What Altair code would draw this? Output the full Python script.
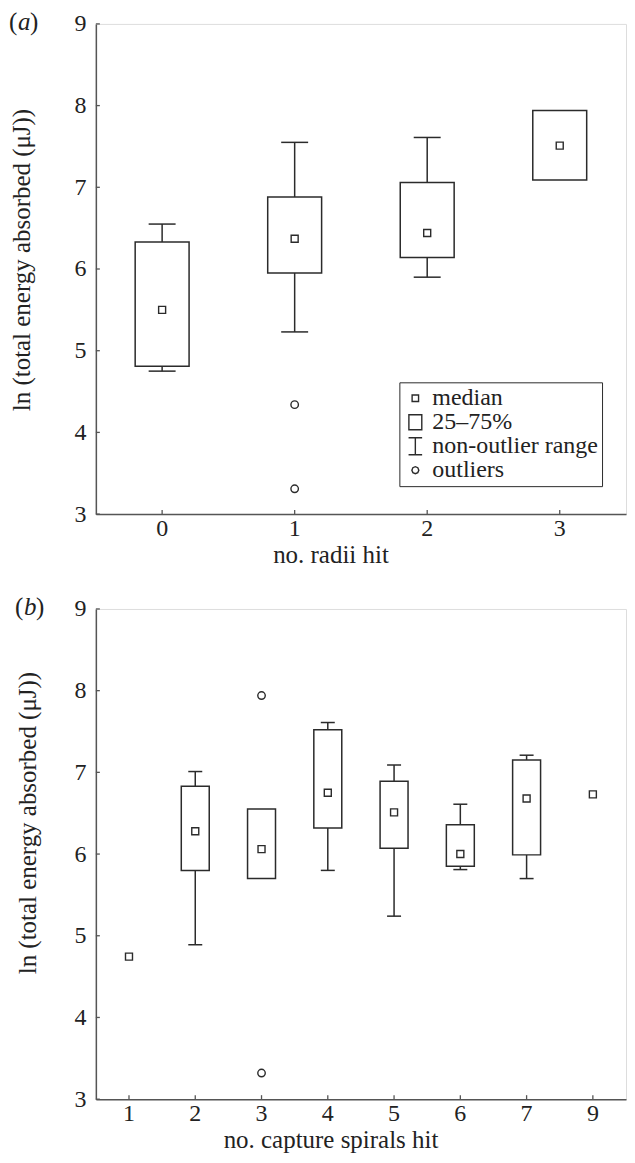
import altair as alt
import pandas as pd

FONT = "Liberation Serif"
INK = "#2b2b2b"
AX = "#555555"
TXT = "#222222"

# ---- panel (a): no. radii hit ----
radii_cats = ["0", "1", "2", "3"]
a_med = [5.50, 6.37, 6.44, 7.51]
a_q1 = [4.81, 5.95, 6.14, 7.09]
a_q3 = [6.33, 6.88, 7.06, 7.94]
a_lo = [4.75, 5.23, 5.90, None]
a_hi = [6.55, 7.55, 7.61, None]
a_out_cat = ["1", "1"]
a_out_val = [4.34, 3.31]

# ---- panel (b): no. capture spirals hit ----
spiral_cats = ["1", "2", "3", "4", "5", "6", "7", "9"]
b_med = [4.745, 6.28, 6.06, 6.75, 6.51, 6.00, 6.68, 6.73]
b_q1 = [None, 5.80, 5.70, 6.32, 6.07, 5.85, 5.99, None]
b_q3 = [None, 6.83, 6.55, 7.52, 6.89, 6.36, 7.15, None]
b_lo = [None, 4.89, None, 5.80, 5.24, 5.81, 5.70, None]
b_hi = [None, 7.01, None, 7.61, 7.09, 6.61, 7.21, None]
b_out_cat = ["3", "3"]
b_out_val = [7.94, 3.32]

y_ticks = [3, 4, 5, 6, 7, 8, 9]
y_title = "ln (total energy absorbed (μJ))"
legend_items = ["median", "25–75%", "non-outlier range", "outliers"]
legend_paths = [
    "M-0.38,-0.38H0.38V0.38H-0.38Z",
    "M-0.76,-0.88H0.76V0.88H-0.76Z",
    "M-0.8,-1H0.8M0,-1V1M-0.8,1H0.8",
    "M-0.41,0L-0.29,-0.29L0,-0.41L0.29,-0.29L0.41,0L0.29,0.29L0,0.41L-0.29,0.29Z",
]

W = 531
H = 491
FS = 24
TFS = 25
SW = 1.5


def panel(cats, med, q1, q3, lo, hi, out_cat, out_val, xtitle,
          box_w, cap_w, letter, letter_x, ytitle_x, ytitle_y, with_legend):
    stats = pd.DataFrame({"cat": cats, "med": med, "q1": q1, "q3": q3,
                          "lo": lo, "hi": hi})
    outl = pd.DataFrame({"cat": out_cat, "val": out_val})

    xscale = alt.Scale(type="band", domain=cats, paddingInner=0, paddingOuter=0)
    xaxis = alt.Axis(title=xtitle, ticks=False, tickSize=0, grid=False,
                     domainColor=AX, domainWidth=1.5, labelFont=FONT,
                     labelFontSize=FS, labelColor=TXT, labelPadding=2,
                     labelAngle=0, titleFont=FONT, titleFontSize=TFS,
                     titleFontWeight="normal", titleColor=TXT, titlePadding=2,
                     titleX=235, titleAlign="center")
    yscale = alt.Scale(domain=[3, 9], nice=False, zero=False)
    yaxis = alt.Axis(title=y_title, values=y_ticks, format="d", ticks=False,
                     tickSize=0, grid=False, domainColor=AX, domainWidth=1.5,
                     labelFont=FONT, labelFontSize=FS, labelColor=TXT,
                     labelPadding=10, titleFont=FONT, titleFontSize=TFS,
                     titleFontWeight="normal", titleColor=TXT,
                     titleX=ytitle_x, titleY=ytitle_y, titleAngle=270,
                     titleAlign="center", titleBaseline="middle")

    def X():
        return alt.X("cat:O", scale=xscale, axis=xaxis, sort=cats)

    def Y(f):
        return alt.Y(f, type="quantitative", scale=yscale, axis=yaxis)

    base = alt.Chart(stats)
    whisk = base.mark_rule(color=INK, strokeWidth=SW).encode(
        x=X(), y=Y("lo"), y2=alt.Y2("hi"))
    cap_lo = base.mark_tick(orient="horizontal", size=cap_w, thickness=SW,
                            color=INK, opacity=1).encode(x=X(), y=Y("lo"))
    cap_hi = base.mark_tick(orient="horizontal", size=cap_w, thickness=SW,
                            color=INK, opacity=1).encode(x=X(), y=Y("hi"))
    box = base.mark_bar(size=box_w, fill="white", stroke=INK,
                        strokeWidth=SW).encode(x=X(), y=Y("q1"), y2=alt.Y2("q3"))
    median = base.mark_point(shape="square", size=49, filled=False, color=INK,
                             strokeWidth=1.4, opacity=1).encode(x=X(), y=Y("med"))
    outliers = alt.Chart(outl).mark_point(shape="circle", size=56, filled=False,
                                          color=INK, strokeWidth=1.4,
                                          opacity=1).encode(x=X(), y=Y("val"))
    xt = alt.Chart(pd.DataFrame({"cat": cats})).mark_rule(
        color=AX, strokeWidth=1.3).encode(x=X(), y=alt.value(H), y2=alt.value(H - 4))
    yt = alt.Chart(pd.DataFrame({"v": y_ticks})).mark_rule(
        color=AX, strokeWidth=1.3).encode(y=Y("v"), x=alt.value(0), x2=alt.value(4))

    one = pd.DataFrame({"k": [0]})
    ly = -2
    lab1 = alt.Chart(one).mark_text(text="(", font=FONT, fontSize=TFS, color=TXT,
                                    align="left", baseline="middle").encode(
        x=alt.value(letter_x), y=alt.value(ly))
    lab2 = alt.Chart(one).mark_text(text=letter, font=FONT, fontSize=TFS,
                                    fontStyle="italic", color=TXT, align="left",
                                    baseline="middle").encode(
        x=alt.value(letter_x + 9), y=alt.value(ly))
    lab3 = alt.Chart(one).mark_text(text=")", font=FONT, fontSize=TFS, color=TXT,
                                    align="left", baseline="middle").encode(
        x=alt.value(letter_x + 21), y=alt.value(ly))

    layers = [whisk, cap_lo, cap_hi, box, median, outliers, xt, yt, lab1, lab2, lab3]

    if with_legend:
        leg = alt.Chart(pd.DataFrame({"item": legend_items})).mark_point(
            filled=False, opacity=0, size=1, color=INK, strokeWidth=1.4).encode(
            x=alt.value(W / 2), y=alt.value(H / 2),
            shape=alt.Shape("item:N",
                            scale=alt.Scale(domain=legend_items, range=legend_paths),
                            legend=alt.Legend(
                                title=None, orient="none", legendX=304, legendY=359,
                                padding=4, strokeColor=INK, symbolSize=289,
                                symbolStrokeWidth=1.4, symbolStrokeColor=INK,
                                symbolFillColor="transparent", symbolOpacity=1,
                                labelFont=FONT, labelFontSize=24, labelColor=TXT,
                                labelOffset=5, rowPadding=-3, labelLimit=400)))
        layers.append(leg)

    return alt.layer(*layers).properties(width=W, height=H)


pa = panel(radii_cats, a_med, a_q1, a_q3, a_lo, a_hi, a_out_cat, a_out_val,
           "no. radii hit", 54, 27, "a", -87, -74, 236, True)
pb = panel(spiral_cats, b_med, b_q1, b_q3, b_lo, b_hi, b_out_cat, b_out_val,
           "no. capture spirals hit", 28, 14, "b", -81, -68, 214, False)

chart = alt.vconcat(pa, pb, spacing=26).properties(
    padding=0, background="white"
).configure_view(strokeWidth=0).configure(font=FONT)

chart.save("out.html", embed_options={"renderer": "svg", "actions": False})
